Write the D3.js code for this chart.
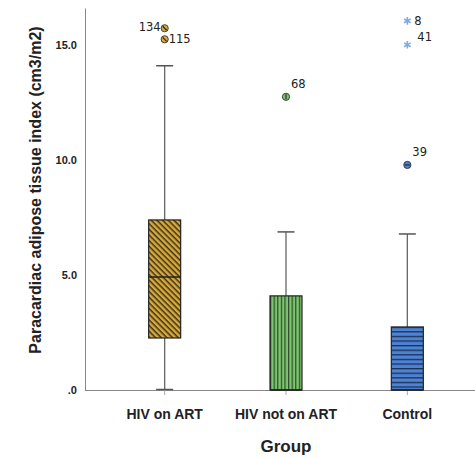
<!DOCTYPE html>
<html>
<head>
<meta charset="utf-8">
<script src="https://cdn.jsdelivr.net/npm/d3@7"></script>
<style>
  body { margin: 0; background: #fff; }
  svg { display: block; font-family: Arial, "Liberation Sans", sans-serif; }
</style>
</head>
<body>
<div id="chart"></div>
<script>
// Data
const groups = ["HIV on ART", "HIV not on ART", "Control"];
const lowerWhisker = [0, 0, 0];
const q1 = [2.26, 0, 0];
const median = [4.91, 0, 0];
const q3 = [7.39, 4.09, 2.74];
const upperWhisker = [14.09, 6.87, 6.78];
// outliers (circles) and extremes (stars)
const outlierGroup = ["HIV on ART", "HIV on ART", "HIV not on ART", "Control"];
const outlierValue = [15.72, 15.24, 12.74, 9.78];
const outlierId = ["134", "115", "68", "39"];
const extremeGroup = ["Control", "Control"];
const extremeValue = [16.04, 15.0];
const extremeId = ["8", "41"];
const yTicks = [0, 5, 10, 15];
const yTickLabels = [".0", "5.0", "10.0", "15.0"];

const fills = ["#d8aa3c", "#7cc56f", "#4d83d6"];
const W = 475, H = 458;
const margin = { left: 85, top: 8, right: 0, bottom: 68 };

const svg = d3.select("#chart").append("svg")
  .attr("width", W).attr("height", H);

// hatch patterns
const defs = svg.append("defs");
const pDiag = defs.append("pattern").attr("id", "p0")
  .attr("patternUnits", "userSpaceOnUse").attr("width", 4).attr("height", 4)
  .attr("patternTransform", "rotate(45)");
pDiag.append("rect").attr("width", 4).attr("height", 4).attr("fill", fills[0]);
pDiag.append("rect").attr("width", 4).attr("height", 1.5).attr("fill", "#3b3116");

const pVert = defs.append("pattern").attr("id", "p1")
  .attr("patternUnits", "userSpaceOnUse").attr("width", 3.6).attr("height", 4);
pVert.append("rect").attr("width", 3.6).attr("height", 4).attr("fill", fills[1]);
pVert.append("rect").attr("width", 1.2).attr("height", 4).attr("fill", "#2c4a2a");

const pHor = defs.append("pattern").attr("id", "p2")
  .attr("patternUnits", "userSpaceOnUse").attr("width", 4).attr("height", 4.6);
pHor.append("rect").attr("width", 4).attr("height", 4.6).attr("fill", fills[2]);
pHor.append("rect").attr("width", 4).attr("height", 1.3).attr("fill", "#1e2f4d");

const y = d3.scaleLinear().domain([0, 16.6]).range([390, 8]);
const x = d3.scaleBand().domain(groups).range([104, 468]);
const cx = g => x(g) + x.bandwidth() / 2;
const boxW = 32, capW = 17;

// axes
const yAxis = svg.append("g").attr("transform", `translate(${margin.left},0)`)
  .call(d3.axisLeft(y).tickValues(yTicks).tickSize(0).tickPadding(8)
    .tickFormat((d, i) => yTickLabels[i]));
yAxis.select(".domain").attr("stroke", "#888");
yAxis.selectAll("text").attr("font-size", 11).attr("font-weight", "bold").attr("fill", "#222");

const xAxis = svg.append("g").attr("transform", `translate(0,390)`)
  .call(d3.axisBottom(x).tickSize(5).tickPadding(14).tickSizeOuter(0));
xAxis.select(".domain").attr("stroke", "#888").attr("d", `M${margin.left},0.5H${W}`);
xAxis.selectAll(".tick line").attr("stroke", "#aaa");
xAxis.selectAll("text").attr("font-size", 14).attr("font-weight", "bold").attr("fill", "#222");

// axis titles
svg.append("text").attr("transform", "translate(41,190) rotate(-90)")
  .attr("text-anchor", "middle").attr("font-size", 16).attr("font-weight", "bold")
  .attr("fill", "#222").text("Paracardiac adipose tissue index (cm3/m2)");
svg.append("text").attr("x", 286).attr("y", 452)
  .attr("text-anchor", "middle").attr("font-size", 17).attr("font-weight", "bold")
  .attr("fill", "#222").text("Group");

// boxes
const boxes = svg.append("g");
groups.forEach((g, i) => {
  const c = cx(g);
  // whisker line
  boxes.append("line").attr("x1", c).attr("x2", c)
    .attr("y1", y(upperWhisker[i])).attr("y2", y(lowerWhisker[i]))
    .attr("stroke", "#666").attr("stroke-width", 1.3);
  boxes.append("line").attr("x1", c - capW / 2).attr("x2", c + capW / 2)
    .attr("y1", y(upperWhisker[i])).attr("y2", y(upperWhisker[i]))
    .attr("stroke", "#555").attr("stroke-width", 1.5);
  if (q1[i] > lowerWhisker[i]) {
    boxes.append("line").attr("x1", c - capW / 2).attr("x2", c + capW / 2)
      .attr("y1", y(lowerWhisker[i]) - 0.5).attr("y2", y(lowerWhisker[i]) - 0.5)
      .attr("stroke", "#555").attr("stroke-width", 1.5);
  }
  boxes.append("rect").attr("x", c - boxW / 2).attr("width", boxW)
    .attr("y", y(q3[i])).attr("height", y(q1[i]) - y(q3[i]))
    .attr("fill", `url(#p${i})`).attr("stroke", "#222").attr("stroke-width", 1.2);
  boxes.append("line").attr("x1", c - boxW / 2).attr("x2", c + boxW / 2)
    .attr("y1", y(median[i])).attr("y2", y(median[i]))
    .attr("stroke", "#222").attr("stroke-width", 1.5);
});

// outliers
const labelOffsets = { "134": [-26, 3], "115": [4, 4], "68": [5, -9], "39": [5, -9] };
outlierValue.forEach((v, i) => {
  const gi = groups.indexOf(outlierGroup[i]);
  const px = cx(outlierGroup[i]), py = y(v);
  svg.append("circle").attr("cx", px).attr("cy", py).attr("r", 3.6)
    .attr("fill", fills[gi]).attr("stroke", "#333").attr("stroke-width", 0.9);
  const d = gi === 0 ? [-2, -2, 2, 2] : gi === 1 ? [0, -2.5, 0, 2.5] : [-2.5, 0, 2.5, 0];
  svg.append("line").attr("x1", px + d[0]).attr("y1", py + d[1])
    .attr("x2", px + d[2]).attr("y2", py + d[3])
    .attr("stroke", "#222").attr("stroke-width", 1.1);
  const off = labelOffsets[outlierId[i]];
  svg.append("text").attr("x", px + off[0]).attr("y", py + off[1])
    .attr("font-size", 11.5).attr("fill", "#222")
    .attr("font-family", "DejaVu Sans, sans-serif").text(outlierId[i]);
});

// extremes
const star = d3.symbol().type(d3.symbolAsterisk).size(40);
const extremeOffsets = { "8": [7, 4], "41": [10, -4] };
extremeValue.forEach((v, i) => {
  const px = cx(extremeGroup[i]), py = y(v);
  svg.append("path").attr("d", star).attr("transform", `translate(${px},${py})`)
    .attr("stroke", "#7eaae8").attr("stroke-width", 1.6).attr("fill", "none");
  const off = extremeOffsets[extremeId[i]];
  svg.append("text").attr("x", px + off[0]).attr("y", py + off[1])
    .attr("font-size", 11.5).attr("fill", "#222")
    .attr("font-family", "DejaVu Sans, sans-serif").text(extremeId[i]);
});
</script>
</body>
</html>
